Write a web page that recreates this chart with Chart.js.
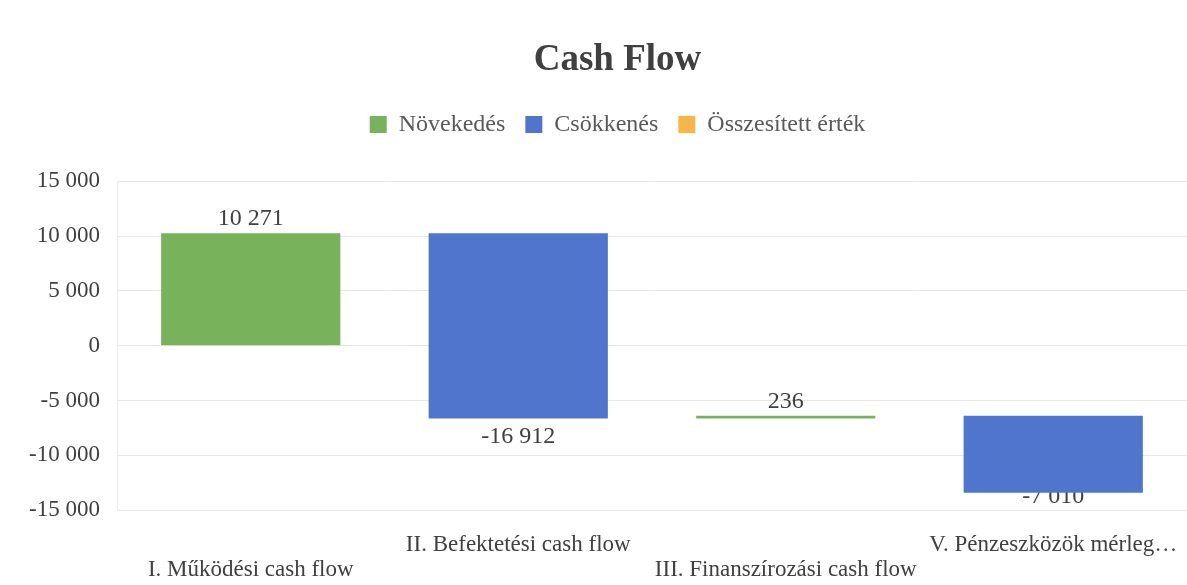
<!DOCTYPE html>
<html>
<head>
<meta charset="utf-8">
<script src="https://cdn.jsdelivr.net/npm/chart.js@4/dist/chart.umd.min.js"></script>
<style>
  html, body { margin: 0; padding: 0; background: #ffffff; }
  #wrap { width: 1187px; height: 585px; }
</style>
</head>
<body>
<div id="wrap"><canvas id="cashChart"></canvas></div>
<script>
// Cash Flow waterfall

const categories = [
    ['', 'I. Működési cash flow'],
    ['II. Befektetési cash flow', ''],
    ['', 'III. Finanszírozási cash flow'],
    ['V. Pénzeszközök mérleg…', '']
];
const changes = [10271, -16912, 236, -7010];
const totals = [null, null, null, null];
const yTicks = [-15000, -10000, -5000, 0, 5000, 10000, 15000];

const GREEN = '#78b25a';
const BLUE = '#4f76cc';
const ORANGE = '#f8b548';
const FONT = "'Liberation Serif', 'Times New Roman', serif";
const HEADER_SHIFT = 48;

Chart.defaults.font.family = FONT;
Chart.defaults.color = '#404040';

// number with space as thousands separator
function fmt(v) {
    const s = Math.abs(Math.round(v)).toString().replace(/\B(?=(\d{3})+(?!\d))/g, ' ');
    return (v < 0 ? '-' : '') + s;
}

// build floating ranges from the changes
let running = 0;
const upRanges = [];
const downRanges = [];
changes.forEach(c => {
    const start = running;
    running += c;
    upRanges.push(c >= 0 ? [start, running] : null);
    downRanges.push(c < 0 ? [start, running] : null);
});

// value labels above/below each bar
const valueLabels = {
    id: 'valueLabels',
    beforeDatasetsDraw(chart) {
        const ctx = chart.ctx;
        const area = chart.chartArea;
        ctx.save();
        ctx.font = '24px ' + FONT;
        ctx.fillStyle = '#404040';
        ctx.textAlign = 'center';
        ctx.textBaseline = 'middle';
        [0, 1].forEach(di => {
            const meta = chart.getDatasetMeta(di);
            meta.data.forEach((bar, i) => {
                const raw = chart.data.datasets[di].data[i];
                if (!raw) return;
                const v = changes[i];
                const top = Math.min(bar.y, bar.base);
                const bottom = Math.max(bar.y, bar.base);
                let y;
                if (v >= 0) {
                    y = top - 14;
                } else {
                    y = bottom + 18;
                    if (y > area.bottom - 13) y = area.bottom - 13;
                }
                ctx.fillText(fmt(v), bar.x, y);
            });
        });
        ctx.restore();
    }
};

// extra space under the legend
const legendGap = {
    id: 'legendGap',
    beforeInit(chart) {
        const fit = chart.legend.fit;
        chart.legend.fit = function () {
            fit.bind(chart.legend)();
            this.height += 35;
        };
    }
};

// title and legend sit a bit right of the canvas centre
const shiftHeader = {
    id: 'shiftHeader',
    afterLayout(chart) {
        if (chart.titleBlock) chart.titleBlock.left += HEADER_SHIFT;
        if (chart.legend) chart.legend.left += HEADER_SHIFT;
    }
};

const ctx = document.getElementById('cashChart').getContext('2d');
const cashChart = new Chart(ctx, {
    type: 'bar',
    data: {
        labels: categories,
        datasets: [
            {
                label: 'Növekedés',
                data: upRanges,
                backgroundColor: GREEN,
                borderWidth: 0,
                grouped: false,
                barPercentage: 1,
                categoryPercentage: 0.67
            },
            {
                label: 'Csökkenés',
                data: downRanges,
                backgroundColor: BLUE,
                borderWidth: 0,
                grouped: false,
                barPercentage: 1,
                categoryPercentage: 0.67
            },
            {
                label: 'Összesített érték',
                data: totals,
                backgroundColor: ORANGE,
                borderWidth: 0,
                grouped: false,
                barPercentage: 1,
                categoryPercentage: 0.67
            }
        ]
    },
    options: {
        responsive: true,
        maintainAspectRatio: false,
        animation: false,
        layout: { padding: 0 },
        plugins: {
            title: {
                display: true,
                text: 'Cash Flow',
                color: '#404040',
                font: { size: 37, weight: 'bold' },
                padding: { top: 38, bottom: 10 }
            },
            legend: {
                display: true,
                position: 'top',
                labels: {
                    color: '#595959',
                    boxWidth: 17,
                    boxHeight: 17,
                    padding: 20,
                    font: { size: 24 }
                }
            },
            tooltip: { enabled: false }
        },
        scales: {
            x: {
                afterFit(scale) {
                    scale.height = 75;
                    scale.paddingLeft = 0;
                    scale.paddingRight = 0;
                },
                grid: { display: false, drawTicks: false },
                border: { display: false },
                ticks: {
                    autoSkip: false,
                    maxRotation: 0,
                    minRotation: 0,
                    padding: 22,
                    color: '#404040',
                    font: { size: 23, lineHeight: 1.1 }
                }
            },
            y: {
                min: -15000,
                max: 15000,
                afterFit(scale) { scale.width = 117; },
                afterBuildTicks(scale) { scale.ticks = yTicks.map(v => ({ value: v })); },
                grid: { color: '#e8e8e8', drawTicks: false },
                border: { display: true, color: '#ececec' },
                ticks: {
                    padding: 17,
                    color: '#404040',
                    font: { size: 23 },
                    callback: v => fmt(v)
                }
            }
        }
    },
    plugins: [valueLabels, legendGap, shiftHeader]
});
</script>
</body>
</html>
